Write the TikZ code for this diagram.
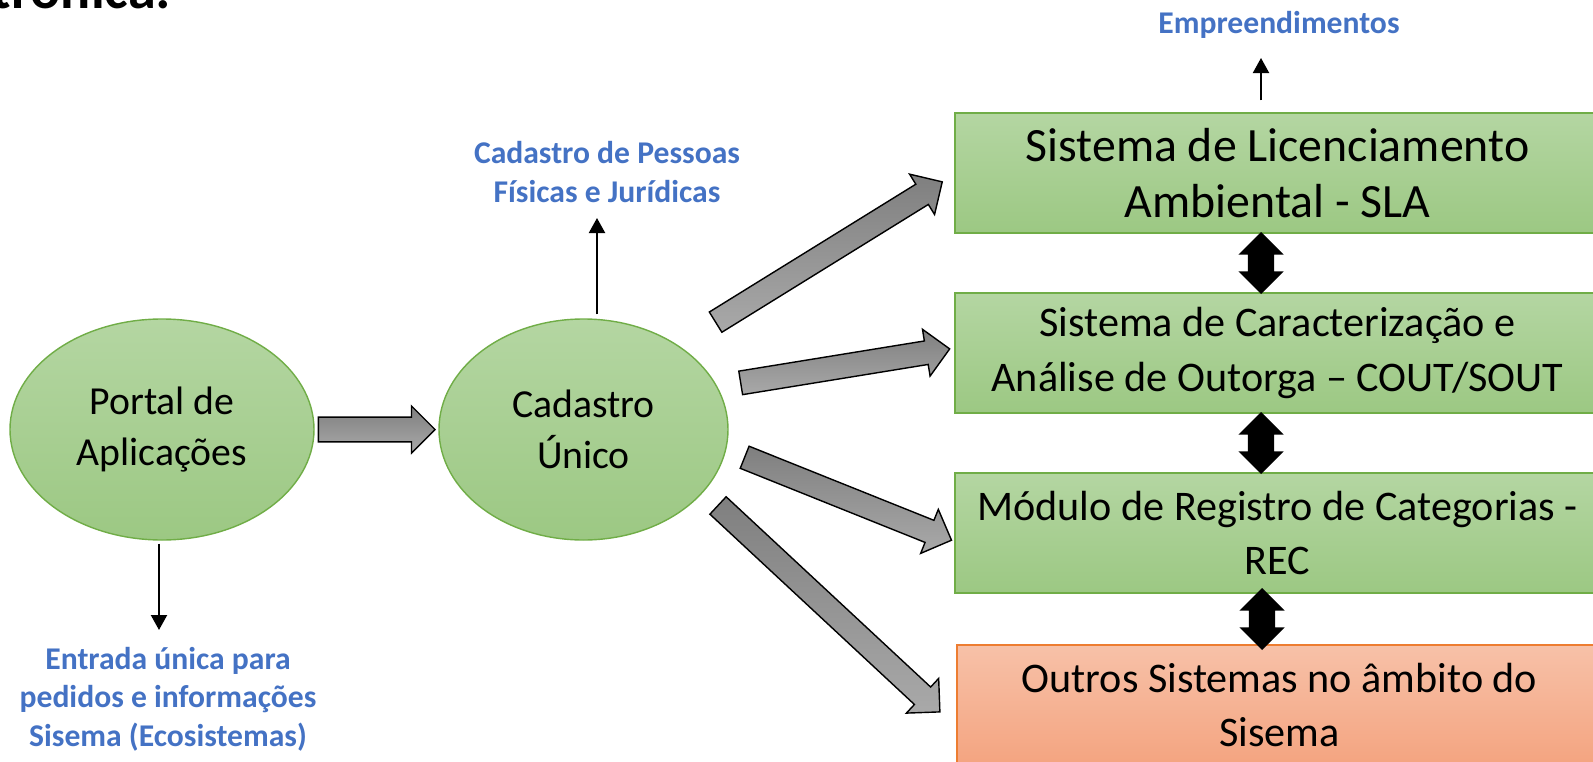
\documentclass[tikz,border=0pt]{standalone}
\usepackage{fontspec}
\setmainfont{Carlito}
\usetikzlibrary{arrows.meta,positioning,shapes.geometric,shapes.arrows,calc}

\definecolor{greentop}{HTML}{B4D6A2}
\definecolor{greenbot}{HTML}{9CC883}
\definecolor{greenline}{HTML}{70AD47}
\definecolor{orangetop}{HTML}{F7C1A8}
\definecolor{orangebot}{HTML}{F4A480}
\definecolor{orangeline}{HTML}{ED7D31}
\definecolor{labelblue}{HTML}{4472C4}
\definecolor{arrowtop}{HTML}{7F7F7F}
\definecolor{arrowbot}{HTML}{A9A9A9}

\begin{document}
\begin{tikzpicture}[>={Triangle[length=1.5mm,width=1.6mm]},node distance=1.8cm,
  main node/.style={ellipse,draw=greenline,line width=0.4pt,top color=greentop,bottom color=greenbot,
    minimum width=3.04cm,minimum height=2.21cm,inner sep=0pt,align=center,
    font=\fontsize{11.3}{14.4}\selectfont},
  sys box/.style={rectangle,draw=greenline,line width=0.4pt,top color=greentop,bottom color=greenbot,
    minimum width=6.45cm,minimum height=1.2cm,inner sep=0pt,align=center,
    font=\fontsize{12}{15.4}\selectfont},
  other box/.style={sys box,draw=orangeline,top color=orangetop,bottom color=orangebot},
  blue label/.style={text=labelblue,align=center,inner sep=0pt,
    font=\bfseries\fontsize{9}{10.9}\selectfont},
  gray arrow/.style={single arrow,draw=black,line width=0.4pt,top color=arrowtop,bottom color=arrowbot,
    minimum width=0pt,inner xsep=0pt,inner ysep=0.112cm,single arrow head extend=0.118cm,
    single arrow head indent=0pt,anchor=tail},
  link arrow/.style={double arrow,fill=black,rotate=90,minimum width=0pt,inner xsep=0pt,
    inner ysep=0.125cm,double arrow head extend=0.095cm,minimum height=0.62cm},
  pointer/.style={->,line width=0.6pt}]

 \useasboundingbox (0,0) rectangle (15.93,-7.62);

 % cut heading at the top
 \node[anchor=base east,inner sep=0pt,font=\bfseries\fontsize{16}{19}\selectfont] (heading) at (1.72,-0.09) {trônica:};

 % the two circles
 \node[main node] (portal) at (1.62,-4.295) {Portal de\\Aplicações};
 \node[main node,minimum width=2.89cm] (cad) at (5.835,-4.295) {Cadastro\\Único};

 % the systems
 \node[sys box,font=\fontsize{13.6}{16}\selectfont] (sla) at (12.775,-1.73) {Sistema de Licenciamento\\Ambiental - SLA};
 \node[sys box] (cout) [below of=sla] {Sistema de Caracterização e\\Análise de Outorga – COUT/SOUT};
 \node[sys box] (rec) [below of=cout] {Módulo de Registro de Categorias -\\REC};
 \node[other box] (outros) at (12.795,-7.05) {Outros Sistemas no âmbito do\\Sisema};

 % labels
 \node[blue label] (pessoas) at (6.07,-1.72) {Cadastro de Pessoas\\Físicas e Jurídicas};
 \node[blue label] (empreend) at (12.79,-0.25) {Empreendimentos};
 \node[blue label] (entrada) at (1.68,-6.99) {Entrada única para\\pedidos e informações\\Sisema (Ecosistemas)};

 \coordinate (pesTip) at (5.97,-2.18);
 \coordinate (empTip) at (12.61,-0.58);
 \coordinate (entTip) at (1.59,-6.30);

 \draw[pointer] ([xshift=0.135cm,yshift=0.04cm]cad.north) -- (pesTip);
 \draw[pointer] ([xshift=-0.165cm,yshift=0.12cm]sla.north) -- (empTip);
 \draw[pointer] ([xshift=-0.03cm,yshift=-0.03cm]portal.south) -- (entTip);

 % block arrows
 \coordinate (p0) at ([xshift=0.03cm]portal.east);
 \coordinate (p1) at ([xshift=-0.04cm]cad.west);
 \coordinate (a0) at (7.15,-3.225);  \coordinate (a1) at (9.42,-1.82);
 \coordinate (b0) at (7.40,-3.83);   \coordinate (b1) at (9.49,-3.49);
 \coordinate (c0) at (7.44,-4.57);   \coordinate (c1) at (9.51,-5.40);
 \coordinate (d0) at (7.175,-5.05);  \coordinate (d1) at (9.40,-7.12);

 \path let \p1=($(p1)-(p0)$), \n1={atan2(\y1,\x1)}, \n2={veclen(\x1,\y1)} in
   node[gray arrow,rotate=\n1,minimum height=\n2,inner ysep=0.116cm,single arrow head extend=0.112cm] (portal to cad) at (p0) {};
 \path let \p1=($(a1)-(a0)$), \n1={atan2(\y1,\x1)}, \n2={veclen(\x1,\y1)} in
   node[gray arrow,rotate=\n1,minimum height=\n2] (cad to sla) at (a0) {};
 \path let \p1=($(b1)-(b0)$), \n1={atan2(\y1,\x1)}, \n2={veclen(\x1,\y1)} in
   node[gray arrow,rotate=\n1,minimum height=\n2] (cad to cout) at (b0) {};
 \path let \p1=($(c1)-(c0)$), \n1={atan2(\y1,\x1)}, \n2={veclen(\x1,\y1)} in
   node[gray arrow,rotate=\n1,minimum height=\n2] (cad to rec) at (c0) {};
 \path let \p1=($(d1)-(d0)$), \n1={atan2(\y1,\x1)}, \n2={veclen(\x1,\y1)} in
   node[gray arrow,rotate=\n1,minimum height=\n2] (cad to outros) at (d0) {};

 % links between the systems
 \node[link arrow] (sla cout) at ([xshift=-0.165cm]$(sla.south)!0.5!(cout.north)$) {};
 \node[link arrow] (cout rec) at ([xshift=-0.165cm]$(cout.south)!0.5!(rec.north)$) {};
 \node[link arrow] (rec outros) at ([xshift=-0.165cm]$(rec.south)!0.5!(outros.north)$) {};

\end{tikzpicture}
\end{document}
